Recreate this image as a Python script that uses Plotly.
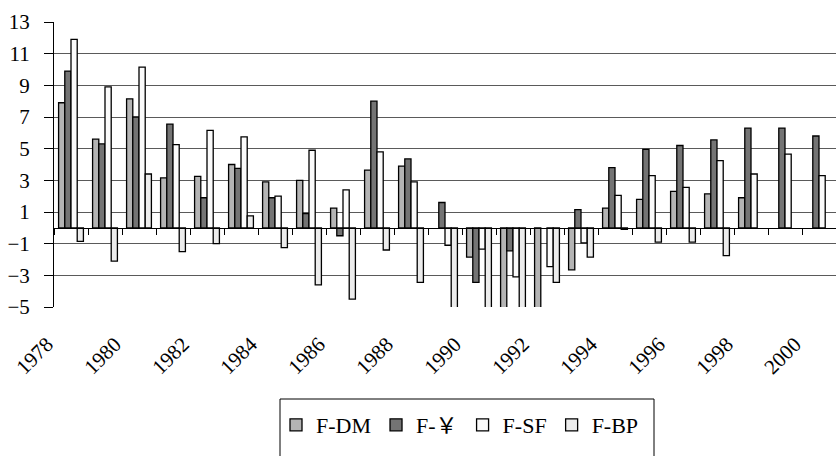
import plotly.graph_objects as go

# Annual values per currency series, 1978-2000 (None = no value reported)
years = list(range(1978, 2001))
f_dm = [7.9, 5.6, 8.15, 3.15, 3.25, 4.0, 2.9, 3.0, 1.25, 3.65, 3.9, None,
        -1.85, -6.8, -5.9, -2.65, 1.25, 1.8, 2.3, 2.15, 1.9, None, None]
f_yen = [9.9, 5.3, 7.0, 6.55, 1.9, 3.75, 1.9, 0.9, -0.5, 8.0, 4.35, 1.6,
         -3.45, -1.45, None, 1.15, 3.8, 4.95, 5.2, 5.55, 6.3, 6.3, 5.8]
f_sf = [11.9, 8.9, 10.15, 5.25, 6.15, 5.75, 2.0, 4.9, 2.4, 4.8, 2.9, -1.1,
        -1.35, -3.1, -2.45, -0.95, 2.05, 3.3, 2.55, 4.25, 3.4, 4.65, 3.3]
f_bp = [-0.85, -2.1, 3.4, -1.5, -1.0, 0.75, -1.25, -3.6, -4.5, -1.4, -3.45, -6.5,
        -7.2, -6.3, -3.45, -1.85, -0.1, -0.9, -0.9, -1.75, None, None, None]

series_names = ["F-DM", "F-\uffe5", "F-SF", "F-BP"]
series_values = [f_dm, f_yen, f_sf, f_bp]
series_colors = ["#b4b4b4", "#747474", "#fbfbfb", "#ececec"]

y_min, y_max, y_step = -5, 13, 2
label_years = years[::2]

SERIF = "Liberation Serif, Times New Roman, Noto Sans CJK JP, serif"

fig = go.Figure()
for name, vals, col in zip(series_names, series_values, series_colors):
    fig.add_trace(go.Bar(
        x=years, y=vals, name=name,
        marker=dict(color=col, line=dict(color="#000000", width=1.3)),
    ))

# invisible helper so the category-boundary axis at y = 0 is drawn
fig.add_trace(go.Scatter(x=[years[0]], y=[0], xaxis="x2", yaxis="y",
                         mode="none", showlegend=False, hoverinfo="skip"))

x_range = [years[0] - 0.5, years[-1] + 0.5]

fig.update_layout(
    width=836, height=456,
    margin=dict(l=54, r=0, t=22, b=149),
    paper_bgcolor="white", plot_bgcolor="white",
    barmode="group", bargap=0.27, bargroupgap=0,
    font=dict(family=SERIF, color="#000000", size=21),
    xaxis=dict(
        range=x_range, tickmode="array", tickvals=label_years,
        ticktext=[str(y) for y in label_years], tickangle=-45,
        ticks="", showline=False, showgrid=False, zeroline=False,
        tickfont=dict(size=21), ticklabelstandoff=20, ticklabelshift=-24,
    ),
    xaxis2=dict(
        overlaying="x", anchor="free",
        position=(0 - y_min) / (y_max - y_min),
        range=x_range, tickmode="linear", tick0=years[0] - 0.5, dtick=1,
        ticks="outside", ticklen=6, tickcolor="#000000", tickwidth=1,
        showline=True, linecolor="#000000", linewidth=1,
        showgrid=False, zeroline=False, showticklabels=False,
    ),
    yaxis=dict(
        range=[y_min, y_max], tickmode="linear", tick0=y_min, dtick=y_step,
        showgrid=True, gridcolor="#5a5a5a", gridwidth=1,
        showline=True, linecolor="#000000", linewidth=1,
        ticks="outside", ticklen=9, tickcolor="#000000",
        zeroline=False, tickfont=dict(size=21), ticklabelstandoff=10,
    ),
    legend=dict(
        orientation="h", xref="container", yref="container",
        x=276 / 836, y=1 - 404 / 456, xanchor="left", yanchor="top",
        font=dict(size=22, family=SERIF), bgcolor="rgba(0,0,0,0)",
        borderwidth=0, itemwidth=30, traceorder="normal",
    ),
    showlegend=True,
)

# legend frame
fig.add_shape(type="rect", xref="paper", yref="paper",
              x0=(280 - 54) / 782, x1=(654 - 54) / 782,
              y0=(307 - 399) / 285, y1=(307 - 470) / 285,
              line=dict(color="#000000", width=1), fillcolor="rgba(0,0,0,0)")

fig.write_html("out.html")
